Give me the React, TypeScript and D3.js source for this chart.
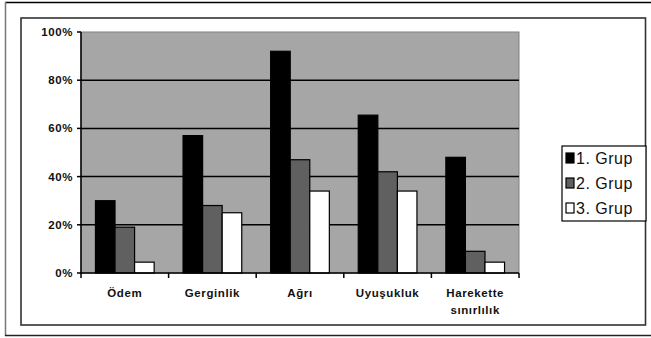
import React from "react";
import * as d3 from "d3";

const categories = ["Ödem", "Gerginlik", "Ağrı", "Uyuşukluk", "Harekette sınırlılık"];
const categoryLines = [["Ödem"], ["Gerginlik"], ["Ağrı"], ["Uyuşukluk"], ["Harekette", "sınırlılık"]];
const seriesNames = ["1. Grup", "2. Grup", "3. Grup"];
const grup1 = [30, 57, 92, 65.5, 48];
const grup2 = [19, 28, 47, 42, 9];
const grup3 = [4.5, 25, 34, 34, 4.5];
const yTicks = [0, 20, 40, 60, 80, 100];
const colors = ["#000000", "#606060", "#ffffff"];

export default function App() {
  const W = 651, H = 338;
  const left = 81, right = 519, top = 32, bottom = 273;
  const series = [grup1, grup2, grup3];
  const x = d3.scaleBand<string>().domain(categories).range([left, right]).paddingInner(0.33).paddingOuter(0.165);
  const xs = d3.scaleBand<number>().domain([0, 1, 2]).range([0, x.bandwidth()]);
  const y = d3.scaleLinear().domain([0, 100]).range([bottom, top]);
  const catEdges = d3.range(categories.length + 1).map((i) => left + (i * (right - left)) / categories.length);
  const font = "Arial, 'Liberation Sans', sans-serif";
  return (
    <svg width={W} height={H} style={{ position: "absolute", left: 0, top: 0, background: "#fff" }}>
      {/* outer frame */}
      <line x1={5} y1={2.5} x2={651} y2={2.5} stroke="#000" strokeWidth={1.5} />
      <line x1={5.5} y1={2} x2={5.5} y2={336} stroke="#777" strokeWidth={1.5} />
      <line x1={5} y1={335.5} x2={651} y2={335.5} stroke="#222" strokeWidth={1.5} />
      {/* inner frame */}
      <rect x={21} y={18} width={624.5} height={307} fill="#fff" stroke="#333" strokeWidth={1.6} />
      {/* plot area */}
      <rect x={left} y={top} width={right - left} height={bottom - top} fill="#a6a6a6" stroke="#808080" strokeWidth={1} />
      {yTicks.map((t) => (
        <g key={t}>
          {t > 0 && t < 100 && <line x1={left} x2={right} y1={y(t)} y2={y(t)} stroke="#000" strokeWidth={1.5} />}
          <line x1={left - 4} x2={left} y1={y(t)} y2={y(t)} stroke="#000" strokeWidth={1.5} />
          <text x={left - 8} y={y(t)} dy="0.35em" textAnchor="end" fontFamily={font} fontWeight="bold" fontSize={11.5}
            letterSpacing={0.6} fill="#111">
            {t}%
          </text>
        </g>
      ))}
      {categories.map((c, ci) => (
        <g key={c}>
          {series.map((s, si) => (
            <rect key={si} x={(x(c) as number) + (xs(si) as number)} y={y(s[ci])} width={xs.bandwidth()} height={bottom - y(s[ci])}
              fill={colors[si]} stroke="#000" strokeWidth={1.2} />
          ))}
          {categoryLines[ci].map((ln, li) => (
            <text key={li} x={(x(c) as number) + x.bandwidth() / 2} y={297 + li * 17} textAnchor="middle" fontFamily={font}
              fontWeight="bold" fontSize={11.5} letterSpacing={0.6} fill="#111">
              {ln}
            </text>
          ))}
        </g>
      ))}
      <line x1={left} x2={left} y1={top} y2={bottom + 1} stroke="#000" strokeWidth={1.5} />
      <line x1={left} x2={right} y1={bottom} y2={bottom} stroke="#000" strokeWidth={1.5} />
      {catEdges.map((e, i) => (
        <line key={i} x1={e} x2={e} y1={bottom} y2={bottom + 5} stroke="#000" strokeWidth={1.5} />
      ))}
      {/* legend */}
      <rect x={562} y={146} width={84} height={75} fill="#fff" stroke="#000" strokeWidth={1.2} />
      {seriesNames.map((n, i) => (
        <g key={n}>
          <rect x={566} y={153 + i * 25} width={8} height={10} fill={colors[i]} stroke="#000" strokeWidth={1.2} />
          <text x={576} y={158 + i * 25} dy="0.36em" fontFamily={font} fontSize={16} letterSpacing={0.5} fill="#111">
            {n}
          </text>
        </g>
      ))}
    </svg>
  );
}
